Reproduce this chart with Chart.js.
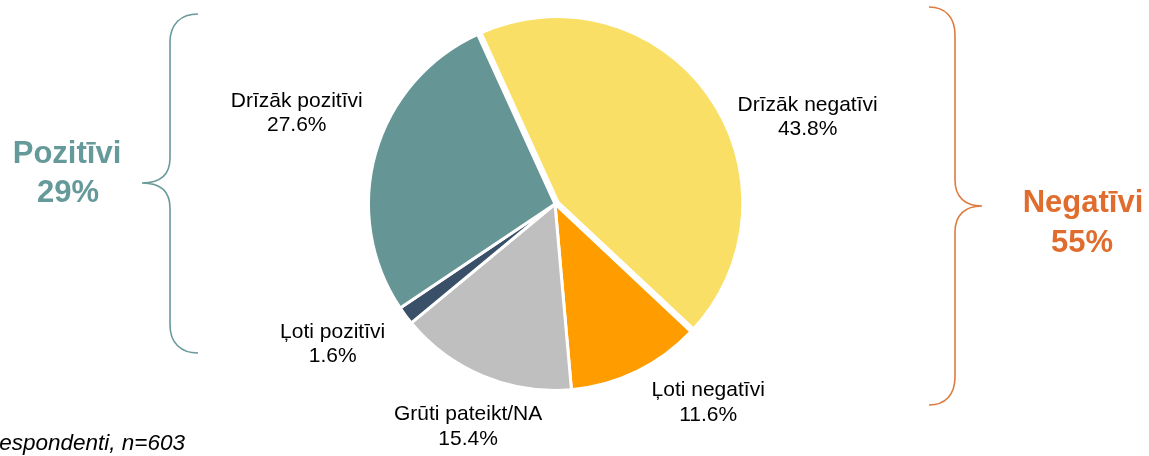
<!DOCTYPE html>
<html><head><meta charset="utf-8">
<script src="https://cdn.jsdelivr.net/npm/chart.js@4.4.0/dist/chart.umd.min.js"></script>
<style>html,body{margin:0;padding:0;background:#fff;overflow:hidden}canvas{display:block}</style>
</head><body>
<canvas id="c" width="1149" height="456"></canvas>
<script>
// ---- data ----
const categories = ['Drīzāk negatīvi', 'Ļoti negatīvi', 'Grūti pateikt/NA', 'Ļoti pozitīvi', 'Drīzāk pozitīvi'];
const shares = [43.8, 11.6, 15.4, 1.6, 27.6];
const groupNames = ['Pozitīvi', 'Negatīvi'];
const groupShares = [29, 55];
const footnote = 'Visi respondenti, n=603';

// ---- styles ----
const sliceColors = ['#FADF66', '#FF9C00', '#BFBFBF', '#3A5069', '#669595'];
const sliceOffsets = [8, 0, 0, 0, 0];
const sliceBorders = [6, 3, 3, 3, 3];
const tealText = '#669999';
const orangeText = '#E06D2E';
const FONT = '"Liberation Sans", Arial, Helvetica, sans-serif';

// label placement relative to each slice (angle shift in degrees, distance in radii)
const labelPlace = [
  { dAng: 16.4, k: 1.435 },
  { dAng: -11.9, k: 1.339 },
  { dAng: -1.2, k: 1.273 },
  { dAng: 4.8, k: 1.405 },
  { dAng: 3.9, k: 1.471 }
];

const sliceLabels = {
  id: 'sliceLabels',
  afterDatasetsDraw(chart) {
    const ctx = chart.ctx;
    const meta = chart.getDatasetMeta(0);
    ctx.save();
    ctx.font = '21px ' + FONT;
    ctx.fillStyle = '#000';
    ctx.textAlign = 'center';
    ctx.textBaseline = 'alphabetic';
    meta.data.forEach((arc, i) => {
      const p = arc.getProps(['x', 'y', 'startAngle', 'endAngle', 'outerRadius'], true);
      const a = (p.startAngle + p.endAngle) / 2 + labelPlace[i].dAng * Math.PI / 180;
      const r = p.outerRadius * labelPlace[i].k;
      const x = p.x + Math.cos(a) * r;
      const y = p.y + Math.sin(a) * r;
      ctx.fillText(categories[i], x, y - 4.8);
      ctx.fillText(shares[i].toFixed(1) + '%', x, y + 19.7);
    });
    ctx.restore();
  }
};

const decorations = {
  id: 'decorations',
  afterDraw(chart) {
    const ctx = chart.ctx;
    ctx.save();
    // left brace (Pozitīvi)
    ctx.lineWidth = 1.6;
    ctx.strokeStyle = '#6A9A9A';
    ctx.beginPath();
    ctx.moveTo(198, 14);
    ctx.bezierCurveTo(181, 14, 170, 24, 170, 42);
    ctx.lineTo(170, 158);
    ctx.bezierCurveTo(170, 175, 160, 183, 142, 183);
    ctx.bezierCurveTo(160, 183, 170, 191, 170, 208);
    ctx.lineTo(170, 325);
    ctx.bezierCurveTo(170, 343, 181, 353, 198, 353);
    ctx.stroke();
    // right brace (Negatīvi)
    ctx.strokeStyle = '#E07B40';
    ctx.beginPath();
    ctx.moveTo(929, 7);
    ctx.bezierCurveTo(945, 7, 955, 17, 955, 35);
    ctx.lineTo(955, 180);
    ctx.bezierCurveTo(955, 197, 965, 206, 982, 206);
    ctx.bezierCurveTo(965, 206, 955, 215, 955, 232);
    ctx.lineTo(955, 377);
    ctx.bezierCurveTo(955, 395, 945, 405, 929, 405);
    ctx.stroke();

    // group totals
    ctx.textAlign = 'center';
    ctx.textBaseline = 'alphabetic';
    ctx.font = 'bold 31px ' + FONT;
    ctx.fillStyle = tealText;
    ctx.fillText(groupNames[0], 67, 163);
    ctx.fillText(groupShares[0] + '%', 68, 202);
    ctx.fillStyle = orangeText;
    ctx.fillText(groupNames[1], 1083, 212);
    ctx.fillText(groupShares[1] + '%', 1082, 252);

    // footnote
    ctx.font = 'italic 22.5px ' + FONT;
    ctx.fillStyle = '#000';
    ctx.textAlign = 'right';
    ctx.fillText(footnote, 185, 450);
    ctx.restore();
  }
};

new Chart(document.getElementById('c'), {
  type: 'pie',
  data: {
    labels: categories,
    datasets: [{
      data: shares,
      backgroundColor: sliceColors,
      borderColor: '#ffffff',
      borderWidth: sliceBorders,
      offset: sliceOffsets
    }]
  },
  options: {
    responsive: false,
    animation: false,
    rotation: -24.5,
    radius: 186.5,
    layout: { padding: { left: 0, right: 39, top: 0, bottom: 48 } },
    plugins: {
      legend: { display: false },
      title: { display: false },
      tooltip: { enabled: false }
    },
    events: []
  },
  plugins: [sliceLabels, decorations]
});
</script>
</body></html>
